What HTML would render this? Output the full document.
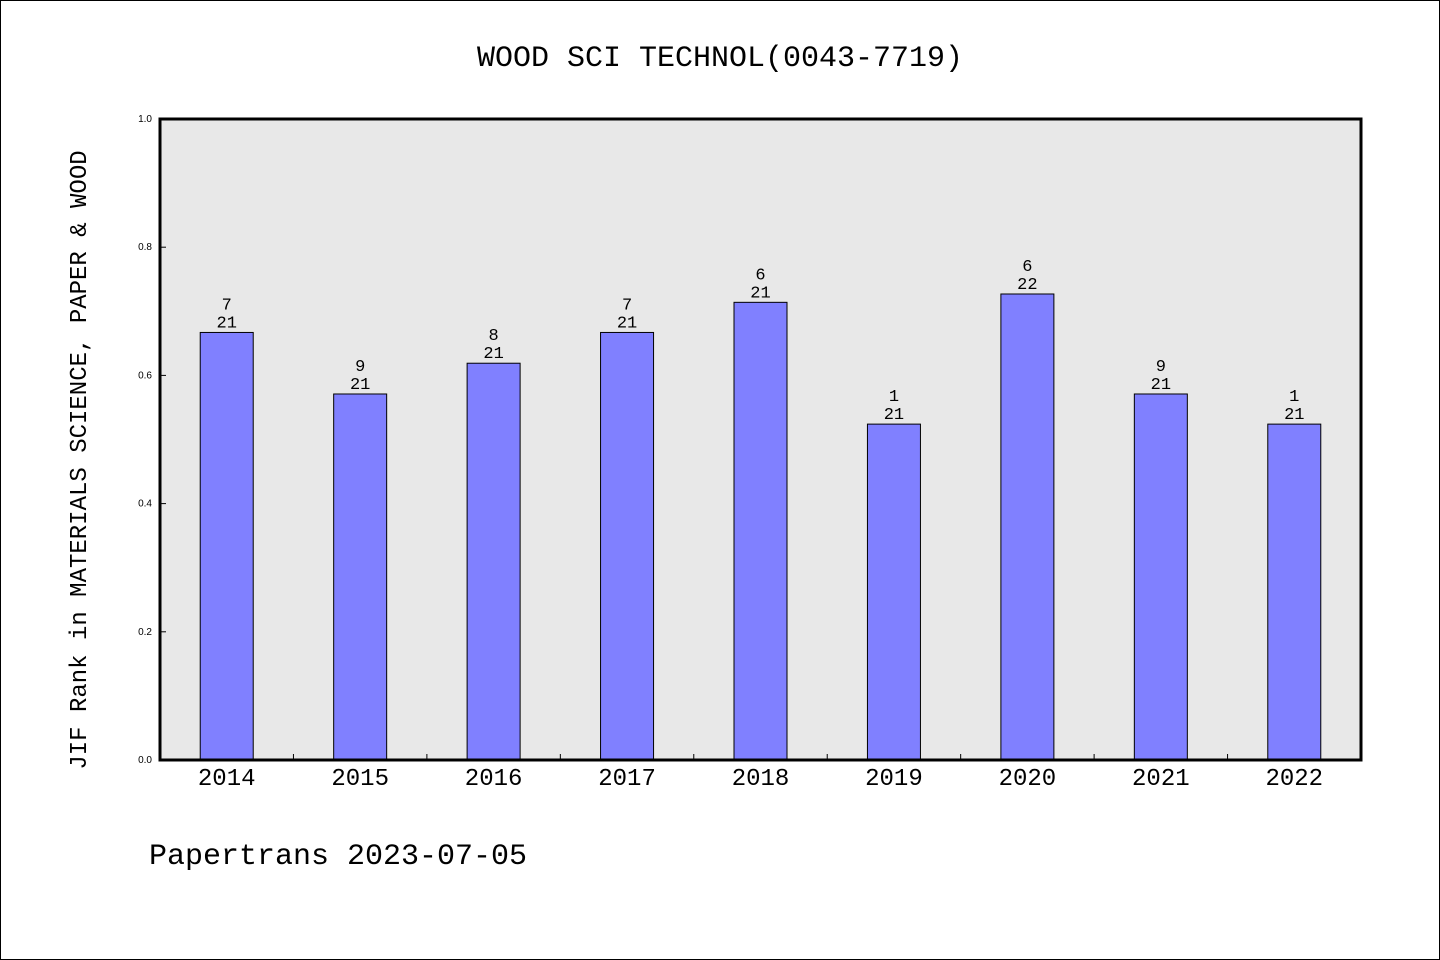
<!DOCTYPE html>
<html><head><meta charset="utf-8"><style>
body{margin:0;background:#fff}
svg{display:block}
text{font-family:"Liberation Mono","WenQuanYi Zen Hei",monospace;fill:#000}
</style></head><body>
<svg id="c" width="1440" height="960">
<rect x="0.5" y="0.5" width="1439" height="959" fill="#fff" stroke="#000"/>
<text x="720" y="66" text-anchor="middle" font-size="30">WOOD SCI TECHNOL(0043-7719)</text>
<rect x="160" y="119" width="1201" height="641" fill="#e8e8e8"/>
<g id="bars"></g>
<g id="axes"></g>
<text transform="translate(86,460) rotate(-90)" text-anchor="middle" font-size="24">JIF Rank in MATERIALS SCIENCE, PAPER &amp; WOOD</text>
<text x="149" y="864" font-size="30">Papertrans 2023-07-05</text>
</svg>
<script>
const years=["2014","2015","2016","2017","2018","2019","2020","2021","2022"];
const values=[0.667,0.571,0.619,0.667,0.714,0.524,0.727,0.571,0.524];
const ranks=["7","9","8","7","6","1","6","9","1"];
const totals=["21","21","21","21","21","21","22","21","21"];
const yTicks=[0,0.2,0.4,0.6,0.8,1.0];
const NS="http://www.w3.org/2000/svg";
const L=160,R=1361,T=119,B=760;
const band=(R-L)/years.length;
const xC=i=>L+(i+0.5)*band;
const y=v=>B-v*(B-T);
function mk(tag,at,parent,txt){const e=document.createElementNS(NS,tag);for(const k in at)e.setAttribute(k,at[k]);if(txt!==undefined)e.textContent=txt;parent.appendChild(e);return e;}
const bars=document.getElementById('bars'),axes=document.getElementById('axes');
years.forEach((yr,i)=>{
 const w=53;
 const r=mk('rect',{x:xC(i)-w/2,y:y(values[i]),width:w,height:B-y(values[i]),fill:'#8080ff',stroke:'#000','stroke-width':1},bars);
 
 
 const t1=mk('text',{x:xC(i),y:y(values[i])-23,'text-anchor':'middle','font-size':17},bars,ranks[i]);
 
 
 const t2=mk('text',{x:xC(i),y:y(values[i])-5,'text-anchor':'middle','font-size':17},bars,totals[i]);
 
 
 const xl=mk('text',{x:xC(i),y:785,'text-anchor':'middle','font-size':24},axes,yr);
 
 
 if(i>0){const tk=mk('line',{x1:L+i*band,x2:L+i*band,y1:B,y2:B-6,stroke:'#000'},axes);
 
 }
});
yTicks.forEach(v=>{
 const tk=mk('line',{x1:L,x2:L+6,y1:y(v),y2:y(v),stroke:'#000'},axes);
 
 
 const tl=mk('text',{x:152,y:y(v)+3,'text-anchor':'end','font-size':10,style:'font-family:"Liberation Sans",sans-serif'},axes,v.toFixed(1));
 
 
});
const b=mk('rect',{x:L,y:T,width:R-L,height:B-T,fill:'none',stroke:'#000','stroke-width':3},axes);


</script>
</body></html>
